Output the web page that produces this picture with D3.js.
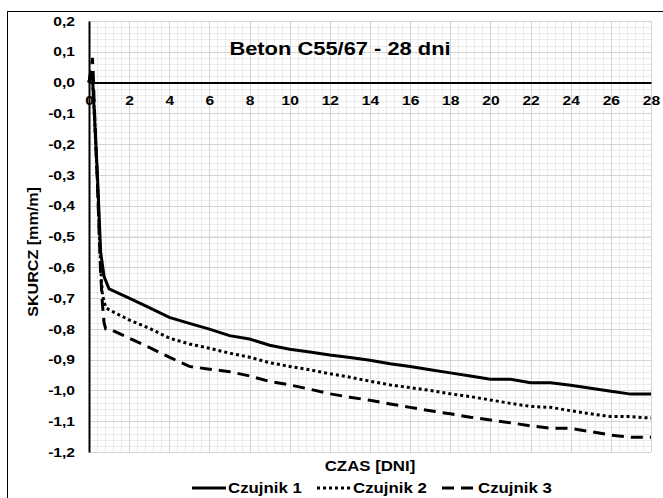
<!DOCTYPE html>
<meta charset="utf-8">
<script src="https://cdn.jsdelivr.net/npm/d3@7/dist/d3.min.js"></script>
<style>
body { margin: 0; background: #fff; }
text { font-family: "Liberation Sans", Arial, sans-serif; font-weight: bold; fill: #000; }
.grid-minor { stroke: #ebebeb; stroke-width: 1px; }
.grid-major { stroke: #d4d4d4; stroke-width: 1px; }
path.series { fill: none; stroke: #000; }
</style>
<body>
<script>

// tick labels
var xTicks = [0, 2, 4, 6, 8, 10, 12, 14, 16, 18, 20, 22, 24, 26, 28];
var yTicks = [0.2, 0.1, 0.0, -0.1, -0.2, -0.3, -0.4, -0.5, -0.6, -0.7, -0.8, -0.9, -1.0, -1.1, -1.2];

// Czujnik 1
var czas1 = [0, 0.08, 0.17, 0.25, 0.42, 0.58, 0.75,
  1, 2, 3, 4, 5, 6, 7, 8, 9, 10, 11, 12, 13, 14, 15, 16, 17, 18, 19, 20, 21, 22, 23, 24, 25, 26, 27, 28];
var skurcz1 = [0, 0.03, 0.02, -0.08, -0.30, -0.55, -0.63,
  -0.67, -0.70, -0.731, -0.763, -0.782, -0.801, -0.822, -0.833, -0.853, -0.866, -0.875, -0.885, -0.893, -0.902,
  -0.913, -0.922, -0.933, -0.943, -0.953, -0.964, -0.964, -0.975, -0.975, -0.983, -0.993, -1.003, -1.012, -1.012];

// Czujnik 2
var czas2 = [0, 0.08, 0.17, 0.25, 0.42, 0.58, 0.67, 0.83,
  1, 2, 3, 4, 5, 6, 7, 8, 9, 10, 11, 12, 13, 14, 15, 16, 17, 18, 19, 20, 21, 22, 23, 24, 25, 26, 27, 28];
var skurcz2 = [0, 0.03, 0.02, -0.08, -0.32, -0.60, -0.69, -0.73,
  -0.738, -0.771, -0.798, -0.83, -0.849, -0.863, -0.879, -0.892, -0.91, -0.922, -0.933, -0.946, -0.957, -0.97,
  -0.982, -0.991, -1.0, -1.011, -1.02, -1.031, -1.042, -1.052, -1.055, -1.066, -1.076, -1.085, -1.085, -1.09];

// Czujnik 3
var czas3 = [0, 0.13, 0.17, 0.21, 0.25, 0.42, 0.58, 0.67, 0.75, 0.83,
  1, 2, 3, 4, 5, 6, 7, 8, 9, 10, 11, 12, 13, 14, 15, 16, 17, 18, 19, 20, 21, 22, 23, 24, 25, 26, 27, 28];
var skurcz3 = [0, 0.05, 0.08, 0.03, -0.05, -0.33, -0.62, -0.72, -0.78, -0.80,
  -0.80, -0.83, -0.86, -0.892, -0.922, -0.931, -0.939, -0.953, -0.971, -0.982, -0.996, -1.011, -1.022, -1.032,
  -1.044, -1.055, -1.066, -1.076, -1.087, -1.096, -1.105, -1.115, -1.123, -1.123, -1.134, -1.145, -1.152, -1.152];

var names = ["Czujnik 1", "Czujnik 2", "Czujnik 3"];
var dashes = [null, "3,3", "12,7"];
var widths = [3, 3, 3];

var series = [
  {name: names[0], x: czas1, y: skurcz1},
  {name: names[1], x: czas2, y: skurcz2},
  {name: names[2], x: czas3, y: skurcz3}
];

var width = 663,
    height = 498;

var svg = d3.select("body").append("svg")
    .attr("width", width)
    .attr("height", height);

// the picture's text is wider than plain Arial bold
function stretch(sel, k) {
  sel.each(function() {
    var l = this.getComputedTextLength();
    d3.select(this).attr("textLength", l * k).attr("lengthAdjust", "spacingAndGlyphs");
  });
}

// outer chart border
svg.append("rect")
    .attr("x", 7.5).attr("y", 11.5)
    .attr("width", width + 10).attr("height", height)
    .attr("fill", "none").attr("stroke", "#000");

var x = d3.scaleLinear().domain([0, 28]).range([89, 651]);
var y = d3.scaleLinear().domain([-1.2, 0.2]).range([452, 21]);

// minor grid
var g = svg.append("g");
g.selectAll("line.vminor")
    .data(d3.range(0, 70).map(function(i) { return i * 0.4; }))
    .enter().append("line")
    .attr("class", "grid-minor")
    .attr("x1", function(d) { return Math.round(x(d)) + 0.5; })
    .attr("x2", function(d) { return Math.round(x(d)) + 0.5; })
    .attr("y1", y(0.2)).attr("y2", y(-1.2));
g.selectAll("line.hminor")
    .data(d3.range(0, 70).map(function(i) { return -1.2 + i * 0.02; }))
    .enter().append("line")
    .attr("class", "grid-minor")
    .attr("y1", function(d) { return Math.round(y(d)) + 0.5; })
    .attr("y2", function(d) { return Math.round(y(d)) + 0.5; })
    .attr("x1", x(0)).attr("x2", x(28));

// major grid
g.selectAll("line.vmajor")
    .data(xTicks)
    .enter().append("line")
    .attr("class", "grid-major")
    .attr("x1", function(d) { return Math.round(x(d)) + 0.5; })
    .attr("x2", function(d) { return Math.round(x(d)) + 0.5; })
    .attr("y1", y(0.2)).attr("y2", y(-1.2));
g.selectAll("line.hmajor")
    .data(yTicks)
    .enter().append("line")
    .attr("class", "grid-major")
    .attr("y1", function(d) { return Math.round(y(d)) + 0.5; })
    .attr("y2", function(d) { return Math.round(y(d)) + 0.5; })
    .attr("x1", x(0)).attr("x2", x(28));

// y axis (left) and x axis at zero
var yAxis = d3.axisLeft(y)
    .tickValues(yTicks)
    .tickSize(0)
    .tickPadding(14)
    .tickFormat(function(d) { return d3.format(".1f")(d).replace(".", ",").replace("−", "-"); });
var ya = svg.append("g")
    .attr("transform", "translate(" + x(0) + ",0)")
    .call(yAxis);
ya.select(".domain").attr("stroke", "#000").attr("stroke-width", 2);
ya.selectAll("text").style("font-size", "13px").style("font-family", null);
stretch(ya.selectAll("text"), 1.2);

var xAxis = d3.axisBottom(x)
    .tickValues(xTicks)
    .tickSize(0)
    .tickPadding(13)
    .tickFormat(d3.format("d"));
var xa = svg.append("g")
    .attr("transform", "translate(0," + y(0) + ")")
    .call(xAxis);
xa.select(".domain").attr("stroke", "#000").attr("stroke-width", 2);
xa.selectAll("text").style("font-size", "13px").style("font-family", null);
stretch(xa.selectAll("text"), 1.2);

// lines
var line = d3.line()
    .x(function(d) { return x(d[0]); })
    .y(function(d) { return y(d[1]); });

svg.selectAll("path.series")
    .data(series)
    .enter().append("path")
    .attr("class", "series")
    .attr("d", function(s) { return line(s.x.map(function(t, i) { return [t, s.y[i]]; })); })
    .attr("stroke-width", function(s, i) { return widths[i]; })
    .attr("stroke-dasharray", function(s, i) { return dashes[i]; });

// title
var title = svg.append("text")
    .attr("x", 340).attr("y", 55)
    .attr("text-anchor", "middle")
    .style("font-size", "17.5px")
    .text("Beton C55/67 - 28 dni");
stretch(title, 1.25);

// axis titles
var yTitle = svg.append("text")
    .attr("transform", "translate(38,252) rotate(-90)")
    .attr("text-anchor", "middle")
    .style("font-size", "14px")
    .text("SKURCZ [mm/m]");
stretch(yTitle, 1.15);

var xTitle = svg.append("text")
    .attr("x", 370).attr("y", 471)
    .attr("text-anchor", "middle")
    .style("font-size", "14px")
    .text("CZAS [DNI]");
stretch(xTitle, 1.2);

// legend
var legendX = [192, 317, 442];
var lg = svg.selectAll("g.legend")
    .data(series)
    .enter().append("g")
    .attr("class", "legend")
    .attr("transform", function(d, i) { return "translate(" + legendX[i] + ",488)"; });
lg.append("line")
    .attr("x1", 0).attr("x2", 34)
    .attr("stroke", "#000")
    .attr("stroke-width", function(d, i) { return widths[i]; })
    .attr("stroke-dasharray", function(d, i) { return dashes[i]; });
var lt = lg.append("text")
    .attr("x", 36).attr("y", 5)
    .style("font-size", "14px")
    .text(function(d) { return d.name; });
stretch(lt, 1.2);

</script>
</body>
</html>
